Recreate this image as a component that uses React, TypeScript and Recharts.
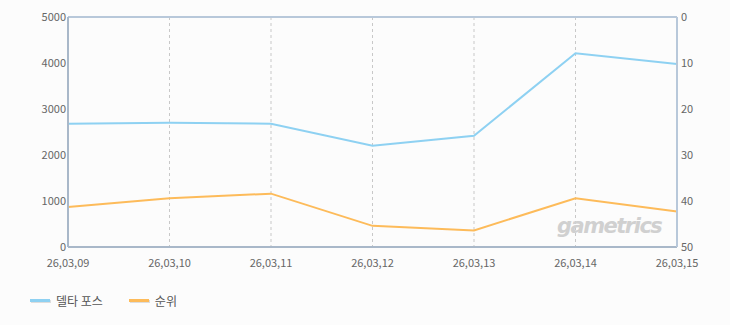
import React from 'react'
import { LineChart, Line, XAxis, YAxis, CartesianGrid, ReferenceLine } from 'recharts'

const dates = ['26,03,09', '26,03,10', '26,03,11', '26,03,12', '26,03,13', '26,03,14', '26,03,15']
const deltaForce = [2680, 2700, 2680, 2200, 2420, 4210, 3980]
const rank = [41.3, 39.4, 38.4, 45.4, 46.4, 39.4, 42.3]
const leftTicks = [0, 1000, 2000, 3000, 4000, 5000]
const rightTicks = [0, 10, 20, 30, 40, 50]

const BLUE = '#8ed1f2'
const ORANGE = '#fdbb5a'
const FONT = '"Noto Sans CJK KR", "DejaVu Sans", sans-serif'

export default function App() {
  const data = dates.map((d, i) => ({ date: d, delta: deltaForce[i], rank: rank[i] }))
  const tick = { fill: '#666', fontSize: 11, fontFamily: FONT }

  return (
    <div style={{ position: 'absolute', left: 0, top: 0, width: 730, height: 325, background: '#fcfcfc', fontFamily: FONT }}>
      <LineChart width={730} height={280} data={data} margin={{ top: 17, right: 0, bottom: 0, left: 0 }}>
        <CartesianGrid
          stroke="#c8c8c8"
          vertical={false}
          horizontalFill={['#fcfcfc', '#ffffff']}
        />
        <CartesianGrid stroke="#c8c8c8" horizontal={false} strokeDasharray="3 3" />
        <XAxis
          dataKey="date"
          tick={tick}
          tickLine={false}
          axisLine={{ stroke: '#a9b8c9', strokeWidth: 2 }}
          tickMargin={6}
          height={33}
          interval={0}
        />
        <YAxis
          yAxisId="left"
          domain={[0, 5000]}
          ticks={leftTicks}
          tick={tick}
          tickLine={false}
          tickSize={0}
          tickMargin={2}
          width={68}
          axisLine={{ stroke: '#a9b8c9', strokeWidth: 2 }}
        />
        <YAxis
          yAxisId="right"
          orientation="right"
          reversed
          domain={[0, 50]}
          ticks={rightTicks}
          tick={tick}
          tickLine={false}
          tickSize={0}
          tickMargin={4}
          width={53}
          axisLine={{ stroke: '#b8c8da', strokeWidth: 2 }}
        />
        <ReferenceLine yAxisId="left" y={5000} stroke="#b8c8da" strokeWidth={2} />
        <Line
          yAxisId="left"
          type="linear"
          dataKey="delta"
          stroke={BLUE}
          strokeWidth={2}
          dot={false}
          activeDot={false}
          isAnimationActive={false}
        />
        <Line
          yAxisId="right"
          type="linear"
          dataKey="rank"
          stroke={ORANGE}
          strokeWidth={2}
          dot={false}
          activeDot={false}
          isAnimationActive={false}
        />
      </LineChart>

      <div
        style={{
          position: 'absolute',
          left: 557,
          top: 214,
          fontSize: 21,
          fontWeight: 'bold',
          fontStyle: 'italic',
          color: '#d0d0d0',
          fontFamily: '"DejaVu Sans", sans-serif',
          letterSpacing: -1.5,
        }}
      >
        gametrics
      </div>

      <div style={{ position: 'absolute', left: 30, top: 292, display: 'flex', alignItems: 'center', fontSize: 12, color: '#555' }}>
        <span style={{ width: 20, height: 3, background: BLUE, boxShadow: '1px 1px 0 #ddd', marginRight: 6 }} />
        <span style={{ marginRight: 26 }}>델타 포스</span>
        <span style={{ width: 20, height: 3, background: ORANGE, boxShadow: '1px 1px 0 #ddd', marginRight: 6 }} />
        <span>순위</span>
      </div>
    </div>
  )
}
